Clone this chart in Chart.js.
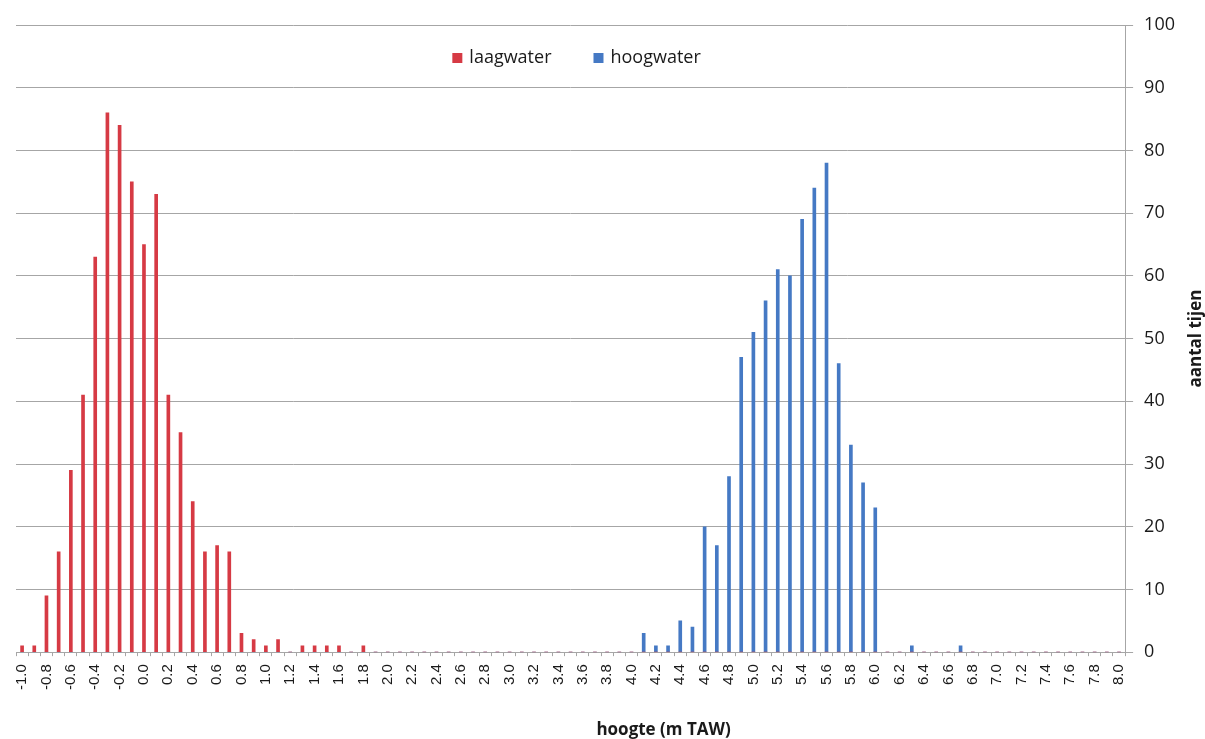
<!DOCTYPE html>
<html>
<head>
<meta charset="utf-8">
<script src="https://cdn.jsdelivr.net/npm/chart.js@4.4.1/dist/chart.umd.min.js"></script>
<style>
    html, body { margin: 0; padding: 0; background: #ffffff; }
    #wrap { width: 1205px; height: 739px; position: relative; }
</style>
</head>
<body>
<div id="wrap"><canvas id="myChart"></canvas></div>
<script>
// hoogte classes (m TAW), 0.1 m steps
var hoogte = [
    "-1.0", "-0.9", "-0.8", "-0.7", "-0.6", "-0.5", "-0.4", "-0.3", "-0.2", "-0.1",
    "0.0", "0.1", "0.2", "0.3", "0.4", "0.5", "0.6", "0.7", "0.8", "0.9",
    "1.0", "1.1", "1.2", "1.3", "1.4", "1.5", "1.6", "1.7", "1.8", "1.9",
    "2.0", "2.1", "2.2", "2.3", "2.4", "2.5", "2.6", "2.7", "2.8", "2.9",
    "3.0", "3.1", "3.2", "3.3", "3.4", "3.5", "3.6", "3.7", "3.8", "3.9",
    "4.0", "4.1", "4.2", "4.3", "4.4", "4.5", "4.6", "4.7", "4.8", "4.9",
    "5.0", "5.1", "5.2", "5.3", "5.4", "5.5", "5.6", "5.7", "5.8", "5.9",
    "6.0", "6.1", "6.2", "6.3", "6.4", "6.5", "6.6", "6.7", "6.8", "6.9",
    "7.0", "7.1", "7.2", "7.3", "7.4", "7.5", "7.6", "7.7", "7.8", "7.9",
    "8.0"
];

var laagwater = [
    1, 1, 9, 16, 29, 41, 63, 86, 84, 75,
    65, 73, 41, 35, 24, 16, 17, 16, 3, 2,
    1, 2, 0, 1, 1, 1, 1, 0, 1, 0,
    0, 0, 0, 0, 0, 0, 0, 0, 0, 0,
    0, 0, 0, 0, 0, 0, 0, 0, 0, 0,
    0, 0, 0, 0, 0, 0, 0, 0, 0, 0,
    0, 0, 0, 0, 0, 0, 0, 0, 0, 0,
    0, 0, 0, 0, 0, 0, 0, 0, 0, 0,
    0, 0, 0, 0, 0, 0, 0, 0, 0, 0,
    0
];

var hoogwater = [
    0, 0, 0, 0, 0, 0, 0, 0, 0, 0,
    0, 0, 0, 0, 0, 0, 0, 0, 0, 0,
    0, 0, 0, 0, 0, 0, 0, 0, 0, 0,
    0, 0, 0, 0, 0, 0, 0, 0, 0, 0,
    0, 0, 0, 0, 0, 0, 0, 0, 0, 0,
    0, 3, 1, 1, 5, 4, 20, 17, 28, 47,
    51, 56, 61, 60, 69, 74, 78, 46, 33, 27,
    23, 0, 0, 1, 0, 0, 0, 1, 0, 0,
    0, 0, 0, 0, 0, 0, 0, 0, 0, 0,
    0
];

var yTicks = [0, 10, 20, 30, 40, 50, 60, 70, 80, 90, 100];

var gridColor = "#a6a6a6";
var textFont = "'Open Sans', 'Noto Sans', sans-serif";

// legend inside the plot + axis titles (Excel style)
const excelLabels = {
    id: "excelLabels",
    afterDraw: function (chart) {
        const ctx = chart.ctx;
        const area = chart.chartArea;
        ctx.save();

        // legend
        ctx.font = "18px " + textFont;
        ctx.textBaseline = "middle";
        let items = chart.data.datasets.map(ds => ({
            text: ds.label,
            color: ds.backgroundColor,
            w: 10 + 7 + ctx.measureText(ds.label).width
        }));
        let gap = 42;
        let total = items.reduce((s, it) => s + it.w, 0) + gap * (items.length - 1);
        let x = (area.left + area.right) / 2 - total / 2 + 6;
        let y = area.top + 33;
        items.forEach(it => {
            ctx.fillStyle = it.color;
            ctx.fillRect(x, y - 5, 10, 10);
            ctx.fillStyle = "#1a1a1a";
            ctx.textAlign = "left";
            ctx.fillText(it.text, x + 17, y);
            x += it.w + gap;
        });

        // x title
        ctx.font = "bold 17px " + textFont;
        ctx.textAlign = "center";
        ctx.fillStyle = "#1a1a1a";
        ctx.fillText("hoogte (m TAW)", (area.left + area.right) / 2 + 93, chart.height - 9);

        // y title, right side, reading upwards
        ctx.translate(chart.width - 9, (area.top + area.bottom) / 2);
        ctx.rotate(-Math.PI / 2);
        ctx.fillText("aantal tijen", 0, 0);

        ctx.restore();
    }
};

const data = {
    labels: hoogte,
    datasets: [
        {
            label: "laagwater",
            backgroundColor: "#d63a44",
            data: laagwater
        },
        {
            label: "hoogwater",
            backgroundColor: "#4579c4",
            data: hoogwater
        }
    ]
};

const config = {
    type: "bar",
    data: data,
    options: {
        responsive: true,
        maintainAspectRatio: false,
        animation: false,
        grouped: false,
        barThickness: 3,
        layout: {
            padding: { left: 16, top: 25, right: 19, bottom: 41 }
        },
        plugins: {
            legend: { display: false },
            tooltip: { enabled: false }
        },
        scales: {
            x: {
                offset: true,
                grid: {
                    offset: true,
                    drawOnChartArea: false,
                    tickLength: 4,
                    color: gridColor
                },
                border: { color: gridColor },
                ticks: {
                    autoSkip: false,
                    minRotation: 90,
                    maxRotation: 90,
                    padding: 8,
                    color: "#1a1a1a",
                    font: { family: "'Liberation Sans', Arial, sans-serif", size: 15 },
                    callback: function (value, index) {
                        return index % 2 === 0 ? hoogte[index] : "";
                    }
                }
            },
            y: {
                position: "right",
                min: 0,
                max: 100,
                afterBuildTicks: function (axis) {
                    axis.ticks = yTicks.map(v => ({ value: v }));
                },
                grid: {
                    color: gridColor,
                    tickLength: 8
                },
                border: { color: gridColor },
                ticks: {
                    padding: 11,
                    color: "#1a1a1a",
                    font: { family: textFont, size: 18 }
                }
            }
        }
    },
    plugins: [excelLabels]
};

const myChart = new Chart(document.getElementById("myChart"), config);
</script>
</body>
</html>
